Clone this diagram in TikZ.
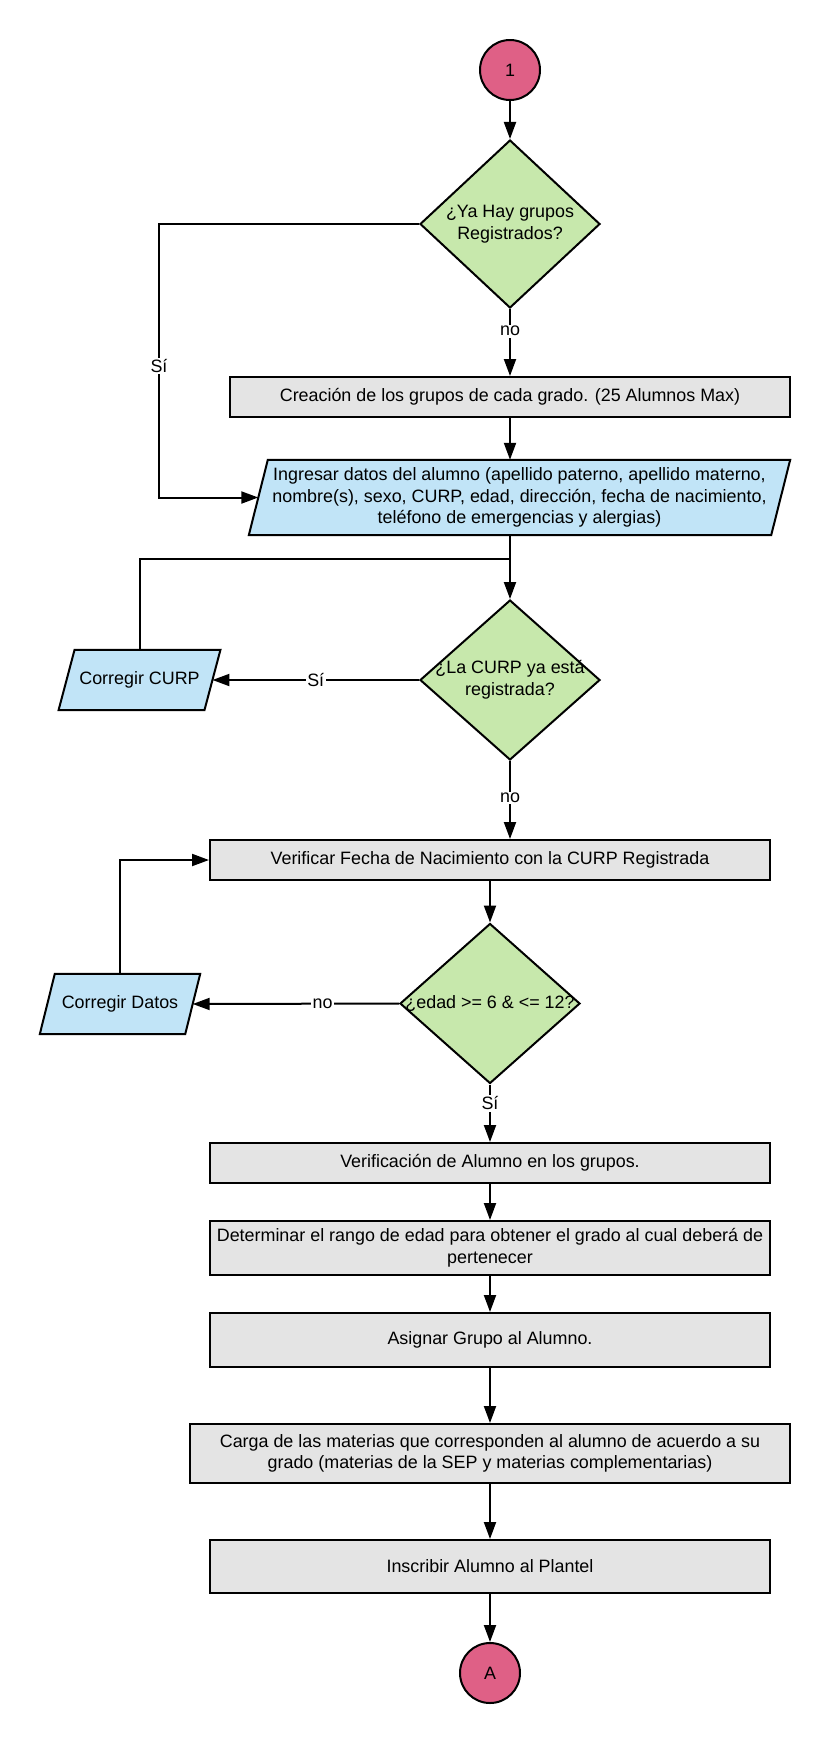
\documentclass[tikz,border=0pt]{standalone}
\usepackage{fontspec}
\setmainfont{Liberation Sans}
\usetikzlibrary{shapes.geometric,arrows.meta,backgrounds}

\definecolor{connpink}{HTML}{DF6086}
\definecolor{decgreen}{HTML}{C7E8AC}
\definecolor{iobblue}{HTML}{C1E4F7}
\definecolor{procgray}{HTML}{E4E4E4}

\tikzset{
  base/.style={draw=black, line width=2pt, inner sep=0pt},
  procbox/.style={base, rectangle, fill=procgray, minimum width=560pt,
    minimum height=40pt, align=center},
  decision/.style={base, diamond, fill=decgreen, minimum width=180pt,
    minimum height=160pt},
  % data box: the node holds the text and the anchors, the slanted
  % outline is drawn behind it by \ioshape
  iobox/.style={rectangle, inner sep=0pt, align=center},
  ioframe/.style={draw=black, line width=2pt, fill=iobblue, line join=miter},
  terminal/.style={base, circle, fill=connpink, minimum size=60pt},
  link/.style={line width=2pt},
  flow/.style={link, -{Triangle[length=17pt,width=12pt]}},
  tag/.style={fill=white, inner sep=1.5pt},
}

% parallelogram around node #1, top edge shifted right by #2 against the bottom
\newcommand{\ioshape}[2]{%
  \path[ioframe] ([xshift=#2/2]#1.north west) -- ([xshift=#2/2]#1.north east)
    -- ([xshift=-#2/2]#1.south east) -- ([xshift=-#2/2]#1.south west) -- cycle;}

\begin{document}
\begin{tikzpicture}[x=1pt, y=-1pt, font=\fontsize{17.9}{21.5}\selectfont]
  \useasboundingbox (0,0) rectangle (830,1740);

  % --- nodes ---
  \node[terminal] (start) at (510,70) {1};
  \node[decision, minimum height=168pt,
        label={[align=center]center:¿Ya Hay grupos\\Registrados?}] (d1) at (510,224) {};
  \node[procbox] (r1) at (510,397) {Creación de los grupos de cada grado. (25 Alumnos Max)};
  \node[iobox, minimum width=522pt, minimum height=75pt] (p1) at (519.5,497.5)
        {Ingresar datos del alumno (apellido paterno, apellido materno,\\nombre(s), sexo, CURP, edad, dirección, fecha de nacimiento,\\teléfono de emergencias y alergias)};
  \coordinate (j1) at (510,559);
  \node[decision,
        label={[align=center]center:¿La CURP ya está\\registrada?}] (d2) at (510,680) {};
  \node[iobox, minimum width=145.5pt, minimum height=60pt] (cc) at (139.5,680) {Corregir CURP};
  \node[procbox] (vf) at (490,860) {Verificar Fecha de Nacimiento con la CURP Registrada};
  \node[decision,
        label={center:{¿edad >= 6 \& <= 12?}}] (d3) at (490,1003.5) {};
  \node[iobox, minimum width=145pt, minimum height=60pt] (cd) at (120,1004) {Corregir Datos};
  \node[procbox] (va) at (490,1163) {Verificación de Alumno en los grupos.};
  \node[procbox, minimum height=54pt] (dr) at (490,1248)
        {Determinar el rango de edad para obtener el grado al cual deberá de\\pertenecer};
  \node[procbox, minimum height=54pt] (ag) at (490,1340) {Asignar Grupo al Alumno.};
  \node[procbox, minimum width=600pt, minimum height=59pt] (cm) at (490,1453.5)
        {Carga de las materias que corresponden al alumno de acuerdo a su\\grado (materias de la SEP y materias complementarias)};
  \node[procbox, minimum height=53pt] (ia) at (490,1566.5) {Inscribir Alumno al Plantel};
  \node[terminal] (end) at (490,1673) {A};

  % --- slanted outlines of the data boxes ---
  \begin{pgfonlayer}{background}
    \ioshape{p1}{19}
    \ioshape{cc}{16}
    \ioshape{cd}{15}
  \end{pgfonlayer}

  % --- connectors ---
  \draw[flow] (start) -- (d1);
  \draw[flow] (d1) -- node[tag, pos=0.33] {no} (r1);
  \draw[flow] (d1.west) -- ++(-260,0) |- node[tag, pos=0.26] {Sí} (p1.west);
  \draw[flow] (r1) -- (r1.south |- p1.north);
  \draw[flow] (d2.north |- p1.south) -- (d2.north);
  \draw[link] (cc.north) |- (j1);
  \draw[flow] (d2.west) -- node[tag, pos=0.5] {Sí} (cc.east);
  \draw[flow] (d2) -- node[tag, pos=0.475] {no} (d2.south |- vf.north);
  \draw[flow] (vf) -- (d3);
  \draw[flow] (d3.west) -- node[tag, pos=0.37] {no} (cd.east);
  \draw[flow] (cd.north) |- (vf.west);
  \draw[flow] (d3) -- node[tag, pos=0.33] {Sí} (va);
  \draw[flow] (va) -- (dr);
  \draw[flow] (dr) -- (ag);
  \draw[flow] (ag) -- (cm);
  \draw[flow] (cm) -- (ia);
  \draw[flow] (ia) -- (end);
\end{tikzpicture}
\end{document}
